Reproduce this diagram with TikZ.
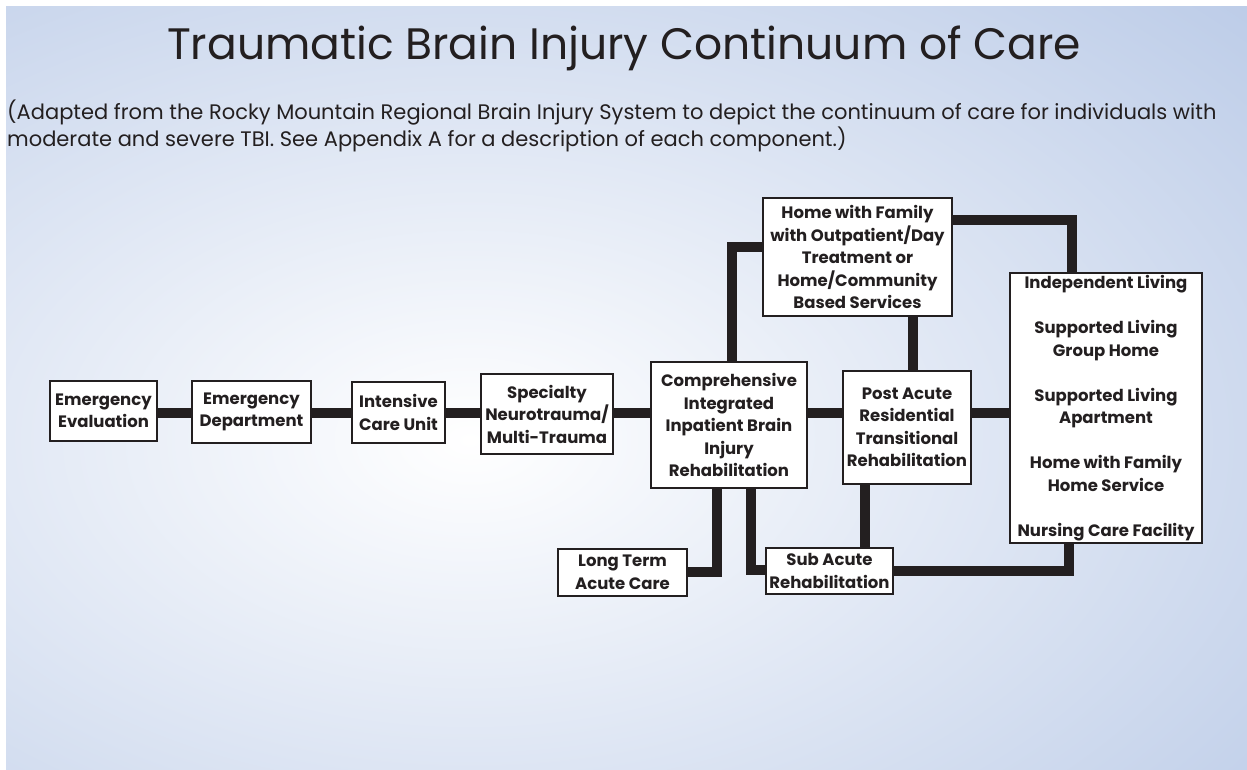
\documentclass[tikz,border=0pt]{standalone}
\usepackage{fontspec}
\setmainfont{Poppins}
\usetikzlibrary{positioning}
\definecolor{bgblue}{HTML}{B7C8E6}
\definecolor{inkline}{HTML}{231F20}
\tikzset{
  stage/.style={draw=inkline, line width=2.4pt, fill=white, align=center,
    inner sep=1pt, font=\bfseries\fontsize{16.5}{22.5}\selectfont, text=inkline},
  link/.style={draw=inkline, line width=10pt}
}
\begin{document}
\begin{tikzpicture}[x=1pt,y=-1pt]
  \useasboundingbox (0,0) rectangle (1247,770);
  % background
  \begin{scope}
    \clip (6,7) rectangle (1247,770);
    \fill[bgblue] (6,7) rectangle (1247,770);
    \shade[inner color=white, outer color=bgblue] (470,440) ellipse [x radius=1150, y radius=700];
  \end{scope}
  % title and note
  \node[font=\fontsize{44}{50}\selectfont, text=inkline] (title) at (624,48) {Traumatic Brain Injury Continuum of Care};
  \node[anchor=north west, inner sep=0pt, align=left, text=inkline,
    font=\fontsize{21}{25}\selectfont] (note) at (7,100)
    {(Adapted from the Rocky Mountain Regional Brain Injury System to depict the continuum of care for individuals with\\
     moderate and severe TBI. See Appendix A for a description of each component.)};
  % stages
  \node[stage, minimum width=107pt, minimum height=60pt] (eval) at (103.5,411) {Emergency\\Evaluation};
  \node[stage, minimum width=119pt, minimum height=62pt] (dept) at (251.5,412) {Emergency\\Department};
  \node[stage, minimum width=93pt, minimum height=61pt] (icu) at (398.5,412.5) {Intensive\\Care Unit};
  \node[stage, minimum width=132pt, minimum height=80pt] (spec) at (547,414) {Specialty\\Neurotrauma/\\Multi-Trauma};
  \node[stage, minimum width=156pt, minimum height=126pt] (comp) at (729,425) {Comprehensive\\Integrated\\Inpatient Brain\\Injury\\Rehabilitation};
  \node[stage, minimum width=189pt, minimum height=118pt] (home) at (857.5,257) {Home with Family\\with Outpatient/Day\\Treatment or\\Home/Community\\Based Services};
  \node[stage, minimum width=128pt, minimum height=113pt] (post) at (907,427.5) {Post Acute\\Residential\\Transitional\\Rehabilitation};
  \node[stage, minimum width=192pt, minimum height=270pt] (indep) at (1106,408)
    {Independent Living\\[22.5pt]Supported Living\\Group Home\\[22.5pt]Supported Living\\Apartment\\[22.5pt]Home with Family\\Home Service\\[22.5pt]Nursing Care Facility};
  \node[stage, minimum width=129pt, minimum height=47pt] (long) at (622.5,572.5) {Long Term\\Acute Care};
  \node[stage, minimum width=127pt, minimum height=46pt] (sub) at (829.5,571) {Sub Acute\\Rehabilitation};
  % bends
  \coordinate (chain) at (0,413);
  \coordinate (upturn) at (732,247);
  \coordinate (homedrop) at (913,0);
  \coordinate (rtop) at (1072,220);
  \coordinate (ltc) at (717,572);
  \coordinate (sac) at (751,570);
  \coordinate (postdrop) at (865,0);
  \coordinate (rbot) at (1069,571);
  % links
  \draw[link] (eval.east |- chain) -- (dept.west |- chain);
  \draw[link] (dept.east |- chain) -- (icu.west |- chain);
  \draw[link] (icu.east |- chain) -- (spec.west |- chain);
  \draw[link] (spec.east |- chain) -- (comp.west |- chain);
  \draw[link] (comp.east |- chain) -- (post.west |- chain);
  \draw[link] (post.east |- chain) -- (indep.west |- chain);
  \draw[link] (comp.north -| upturn) |- (home.west |- upturn);
  \draw[link] (home.south -| homedrop) -- (post.north -| homedrop);
  \draw[link] (home.east |- rtop) -| (indep.north -| rtop);
  \draw[link] (comp.south -| ltc) |- (long.east |- ltc);
  \draw[link] (comp.south -| sac) |- (sub.west |- sac);
  \draw[link] (post.south -| postdrop) -- (sub.north -| postdrop);
  \draw[link] (sub.east |- rbot) -| (indep.south -| rbot);
\end{tikzpicture}
\end{document}
